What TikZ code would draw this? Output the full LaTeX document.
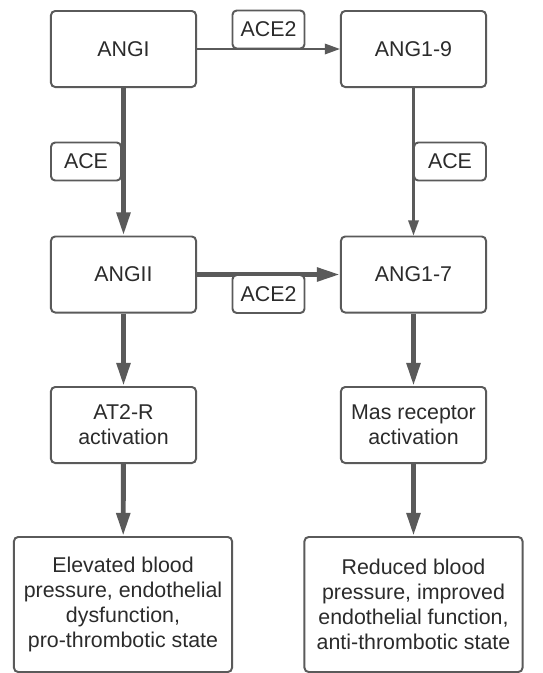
\documentclass[tikz,border=0pt]{standalone}
\usepackage{fontspec}
\setmainfont{Liberation Sans}
\usetikzlibrary{arrows.meta}

\definecolor{edge}{HTML}{5A5A5A}
\definecolor{ink}{HTML}{2B2B2B}

\begin{document}
\begin{tikzpicture}[x=0.025cm, y=-0.025cm,
	stage/.style={draw=edge, line width=1.4pt, rounded corners=3pt, fill=white,
		text=ink, font=\fontsize{15.2pt}{17.8pt}\selectfont, align=center,
		minimum width=3.625cm, minimum height=1.9cm, inner sep=0pt},
	outcome/.style={stage, minimum width=5.45cm, minimum height=3.375cm},
	enzyme/.style={stage, minimum width=1.8cm, minimum height=0.95cm},
	strong/.style={draw=edge, line width=3.5pt, -{Triangle[length=0.58cm, width=0.33cm]}},
	weak/.style={draw=edge, line width=1.5pt, -{Triangle[length=0.38cm, width=0.26cm]}}]

	\useasboundingbox (0,0) rectangle (543,673);

	% peptides
	\node[stage] (angI) at (123.5, 49) {ANGI};
	\node[stage] (ang19) at (413.5, 49) {ANG1-9};
	\node[stage] (angII) at (123.5, 274.5) {ANGII};
	\node[stage] (ang17) at (413.5, 274.5) {ANG1-7};

	% receptors
	\node[stage] (at2r) at (123.5, 425) {AT2-R\\activation};
	\node[stage] (mas) at (413.5, 425) {Mas receptor\\activation};

	% effects
	\node[outcome] (bad) at (123, 604.5) {Elevated blood\\pressure, endothelial\\dysfunction,\\pro-thrombotic state};
	\node[outcome] (good) at (413.5, 604.5) {Reduced blood\\pressure, improved\\endothelial function,\\anti-thrombotic state};

	\draw[weak] (angI) -- (ang19);
	\draw[strong] (angI) -- (angII);
	\draw[weak] (ang19) -- (ang17);
	\draw[strong] (angII) -- (ang17);
	\draw[strong] (angII) -- (at2r);
	\draw[strong] (ang17) -- (mas);
	\draw[strong] (at2r) -- (bad);
	\draw[strong] (mas) -- (good);

	% enzymes
	\node[enzyme] (ace2top) at (268.5, 29.5) {ACE2};
	\node[enzyme] (ace2bot) at (268.5, 294) {ACE2};
	\node[enzyme, minimum width=1.75cm] (aceleft) at (86, 161.5) {ACE};
	\node[enzyme] (aceright) at (450, 161.5) {ACE};

\end{tikzpicture}
\end{document}
